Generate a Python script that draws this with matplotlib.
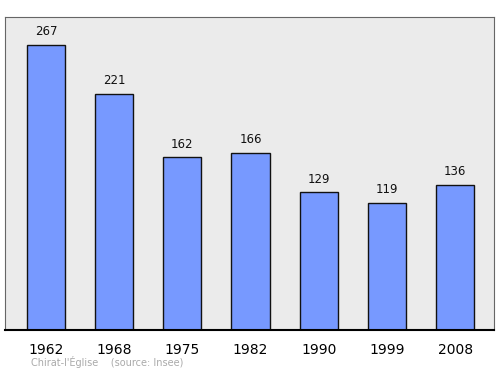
import matplotlib
matplotlib.use("Agg")
import matplotlib.pyplot as plt

years = ["1962", "1968", "1975", "1982", "1990", "1999", "2008"]
population = [267, 221, 162, 166, 129, 119, 136]

fig = plt.figure(figsize=(5, 3.74), dpi=100)
ax = fig.add_axes([0.01, 0.1176, 0.978, 0.837])
ax.set_facecolor("#ebebeb")
x = list(range(len(years)))
ax.bar(x, population, width=0.56, color="#7799ff", edgecolor="#111111", linewidth=1.0, zorder=2)
for xi, v in zip(x, population):
    ax.text(xi, v + 6, str(v), ha="center", va="bottom", fontsize=8.5, color="#111111")
ax.set_xlim(-0.6, 6.57)
ax.set_ylim(0, 293)
ax.set_yticks([])
ax.set_xticks(x)
ax.set_xticklabels(years, fontsize=10)
ax.tick_params(axis="x", length=0, pad=9)
for s in ["left", "right", "top"]:
    ax.spines[s].set_color("#666666")
    ax.spines[s].set_linewidth(0.8)
ax.spines["bottom"].set_color("black")
ax.spines["bottom"].set_linewidth(1.5)
fig.text(0.062, 0.022, "Chirat-l'Église    (source: Insee)", fontsize=7, color="#aaaaaa")
fig.savefig("out.png", dpi=100)
